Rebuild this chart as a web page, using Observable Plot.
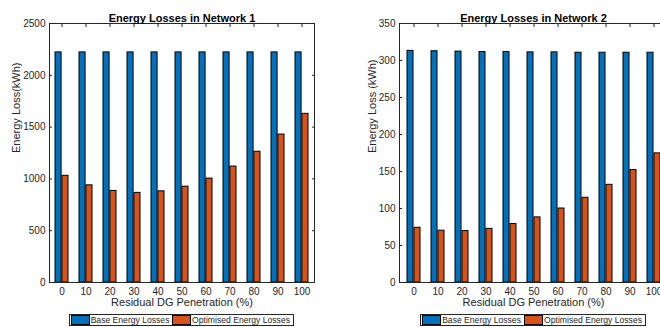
<!DOCTYPE html>
<html><head><meta charset="utf-8">
<script src="https://cdn.jsdelivr.net/npm/d3@7"></script>
<script src="https://cdn.jsdelivr.net/npm/@observablehq/plot@0.6"></script>
<style>
html,body{margin:0;padding:0;background:#fff;}
#wrap{position:relative;width:660px;height:327px;overflow:hidden;font-family:"Liberation Sans",Arial,Helvetica,sans-serif;color:#262626;background:#fff}
.chart{position:absolute;top:0}
.legend{position:absolute;top:314px;height:12px;box-sizing:border-box;border:1px solid #262626;display:flex;align-items:center;font-size:8.6px;white-space:nowrap;padding-left:1px;background:#fff}
.sw{display:inline-block;width:18px;height:8px;border:1px solid #000;margin-right:1px}
.lt{margin-right:3px;letter-spacing:0}
</style>
</head><body>
<div id="wrap"></div>
<script>
// ---- data ----
const categories = ["0","10","20","30","40","50","60","70","80","90","100"];
const net1Base = [2221,2221,2221,2221,2221,2221,2221,2221,2221,2221,2221];
const net1Opt  = [1030,938,884,865,880,925,1003,1119,1262,1428,1628];
const net2Base = [313,312.5,312,311.5,311.5,311,311,310.5,310.5,310.5,310.5];
const net2Opt  = [74,70,69.5,72.5,79,88,100,114.5,132,152,174.5];
const net1Ticks = [0,500,1000,1500,2000,2500];
const net2Ticks = [0,50,100,150,200,250,300,350];
const seriesNames = ["Base Energy Losses","Optimised Energy Losses"];
const seriesColors = ["#0072BD","#D95319"];

const wrap = document.getElementById("wrap");
const axisColor = "#262626";
const pI = 0.46, pO = 0.18;
const fmt = d => String(d);

function makeChart({base, opt, ticks, ymax, title, ylabel, left, width, mL, mR, ylabDx}) {
  const data = categories.map((c,i)=>({cat:c, base:base[i], opt:opt[i]}));
  const frameW = width - mL - mR;
  const step = frameW / (categories.length - pI + 2*pO);
  const bw = step*(1-pI);
  const half = bw/2;
  const chart = Plot.plot({
    width, height: 312,
    marginLeft: mL, marginRight: mR, marginTop: 23, marginBottom: 30,
    style: {fontFamily: '"Liberation Sans",Arial,Helvetica,sans-serif', fontSize: "10px", color: axisColor, background: "transparent"},
    x: {type: "band", domain: categories, paddingInner: pI, paddingOuter: pO, align: 0.5},
    y: {domain: [0, ymax]},
    marks: [
      Plot.barY(data, {x: "cat", y: "base", fill: seriesColors[0], stroke: "#000", strokeWidth: 1, insetRight: half + 0.35}),
      Plot.barY(data, {x: "cat", y: "opt", fill: seriesColors[1], stroke: "#000", strokeWidth: 1, insetLeft: half + 0.35}),
      Plot.frame({stroke: axisColor, strokeWidth: 1}),
      Plot.axisY(ticks, {anchor: "left", tickSize: 0, tickPadding: 4, tickFormat: fmt, label: null}),
      Plot.axisY(ticks, {anchor: "left", tickSize: 3, insetLeft: 3, fill: "none", stroke: axisColor, label: null}),
      Plot.axisY(ticks, {anchor: "right", tickSize: 3, insetRight: 3, fill: "none", stroke: axisColor, label: null}),
      Plot.axisX({anchor: "bottom", tickSize: 0, tickPadding: 5, label: null}),
      Plot.axisX({anchor: "top", tickSize: 3, insetTop: 3, fill: "none", stroke: axisColor, label: null}),
      Plot.text([title], {frameAnchor: "top", dy: -9, fontWeight: "bold", fontSize: 11, fill: "#000"}),
      Plot.text(["Residual DG Penetration (%)"], {frameAnchor: "bottom", dy: 23.5, fontSize: 11, fill: axisColor}),
      Plot.text([ylabel], {frameAnchor: "left", dx: ylabDx, rotate: -90, fontSize: 11, fill: axisColor})
    ]
  });
  chart.classList.add("chart");
  chart.style.left = left + "px";
  wrap.appendChild(chart);
}

makeChart({base: net1Base, opt: net1Opt, ticks: net1Ticks, ymax: 2500, title: "Energy Losses in Network 1", ylabel: "Energy Loss(kWh)", left: 0, width: 330, mL: 49, mR: 16, ylabDx: -33});
makeChart({base: net2Base, opt: net2Opt, ticks: net2Ticks, ymax: 350, title: "Energy Losses in Network 2", ylabel: "Energy Loss (kWh)", left: 330, width: 345, mL: 69, mR: 8, ylabDx: -27});

function makeLegend(left, width) {
  const d = document.createElement("div");
  d.className = "legend";
  d.style.left = left + "px";
  d.style.width = width + "px";
  seriesNames.forEach((n,i)=>{
    const s = document.createElement("span"); s.className = "sw"; s.style.background = seriesColors[i];
    const t = document.createElement("span"); t.className = "lt"; t.textContent = n;
    d.appendChild(s); d.appendChild(t);
  });
  wrap.appendChild(d);
}
makeLegend(69, 225);
makeLegend(420, 226);
</script>
</body></html>
